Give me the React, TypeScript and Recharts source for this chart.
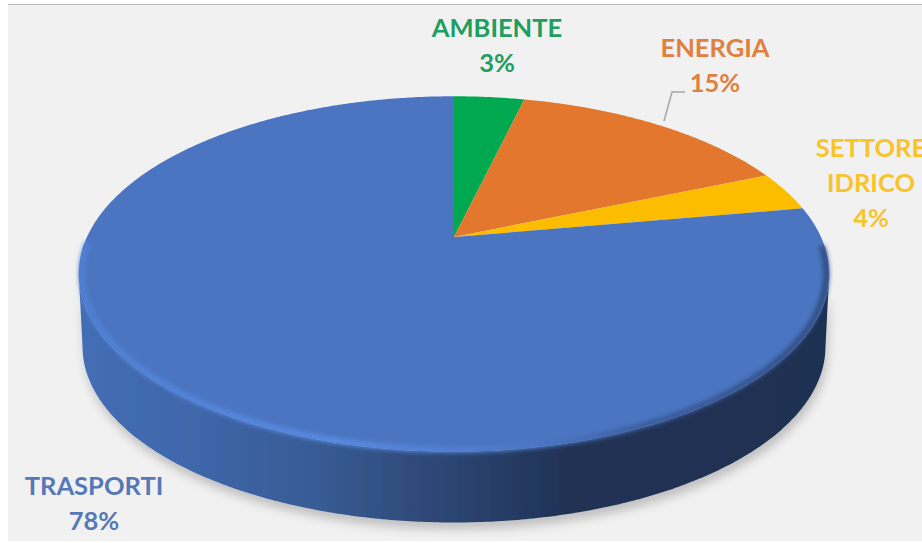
import { Cell, Pie, PieChart } from "recharts";

const categories = ["AMBIENTE", "ENERGIA", "SETTORE IDRICO", "TRASPORTI"];
const shares = [3.7, 14.9, 3.6, 77.8];
const shareLabels = ["3%", "15%", "4%", "78%"];
const faceColors = ["#00a94f", "#e2772d", "#fcbd00", "#4b75c1"];
const labelColors = ["#1f9e60", "#e0803f", "#f9c32a", "#5578b8"];

// centro x e baseline della prima riga per ogni etichetta
const labelSpots = [
  { x: 497, y: 37 },
  { x: 715, y: 57 },
  { x: 871, y: 157 },
  { x: 94, y: 495 },
];

const chartData = categories.map((name, i) => ({ name, value: shares[i] }));

// proiezione prospettica del disco: k = fuga, squash = schiacciamento verticale
const PERSPECTIVE = 0.208;
const SQUASH = 170 / 367;
const DEPTH = 73;
const BOTTOM_SCALE = 0.99;
const RAD = Math.PI / 180;
// angoli dei punti estremi a sinistra e a destra dell'ellisse
const RIGHT_EDGE = -12;
const LEFT_EDGE = -168;

function project(cx: number, cy: number, r: number, deg: number, scale = 1, drop = 0) {
  const u = Math.cos(deg * RAD);
  const v = Math.sin(deg * RAD);
  const w = 1 + PERSPECTIVE * v;
  return [cx + (r * scale * u) / w, cy - (r * SQUASH * scale * v) / w + drop];
}

function rimPoints(cx: number, cy: number, r: number, from: number, to: number, scale = 1, drop = 0) {
  const steps = Math.max(4, Math.ceil(Math.abs(to - from) * 2));
  const pts: number[][] = [];
  for (let i = 0; i <= steps; i++) {
    pts.push(project(cx, cy, r, from + ((to - from) * i) / steps, scale, drop));
  }
  return pts;
}

const toPath = (pts: number[][]) =>
  pts.map((p, i) => `${i ? "L" : "M"}${p[0].toFixed(1)},${p[1].toFixed(1)}`).join(" ");

function DiscSector(props: any) {
  const { cx, cy, outerRadius: r, startAngle, endAngle, fill } = props;
  const rim = rimPoints(cx, cy, r, startAngle, endAngle);
  const face = `M${cx},${cy} ${toPath(rim).replace("M", "L")} Z`;
  const holdsFront = startAngle > -90 && endAngle < -90;
  if (!holdsFront) return <path d={face} fill={fill} />;

  const wallTop = rimPoints(cx, cy, r, RIGHT_EDGE, LEFT_EDGE);
  const wallBottom = rimPoints(cx, cy, r, LEFT_EDGE, RIGHT_EDGE, BOTTOM_SCALE, DEPTH);
  const wall = `${toPath(wallTop)} ${toPath(wallBottom).replace("M", "L")} Z`;
  const nearRim = rimPoints(cx, cy, r - 3, -3, -178);
  return (
    <g>
      <defs>
        <linearGradient id="wallShade" gradientUnits="userSpaceOnUse" x1="80" x2="830" y1="0" y2="0">
          <stop offset="0" stopColor="#446db5" />
          <stop offset="0.15" stopColor="#3f67ab" />
          <stop offset="0.33" stopColor="#375a92" />
          <stop offset="0.5" stopColor="#2b4470" />
          <stop offset="0.65" stopColor="#203255" />
          <stop offset="1" stopColor="#1f3052" />
        </linearGradient>
        <linearGradient id="rimShade" gradientUnits="userSpaceOnUse" x1="80" x2="830" y1="0" y2="0">
          <stop offset="0" stopColor="#5080d4" />
          <stop offset="0.35" stopColor="#5a8ce4" />
          <stop offset="0.5" stopColor="#5280d2" />
          <stop offset="0.62" stopColor="#4b75c1" />
          <stop offset="0.75" stopColor="#3a5c9c" />
          <stop offset="1" stopColor="#304c80" />
        </linearGradient>
        <filter id="discShadow" x="-10%" y="-10%" width="120%" height="130%">
          <feDropShadow dx="2" dy="7" stdDeviation="5" floodColor="#000" floodOpacity="0.2" />
        </filter>
        <filter id="rimBlur" x="-5%" y="-5%" width="110%" height="110%">
          <feGaussianBlur stdDeviation="2" />
        </filter>
      </defs>
      <path d={wall} fill="url(#wallShade)" filter="url(#discShadow)" />
      <path d={face} fill={fill} />
      <path
        d={toPath(nearRim)}
        fill="none"
        stroke="url(#rimShade)"
        strokeWidth={6}
        filter="url(#rimBlur)"
      />
    </g>
  );
}

function DiscLabel(props: any) {
  const { index } = props;
  const spot = labelSpots[index];
  const rows = [...categories[index].split(" "), shareLabels[index]];
  return (
    <g>
      {categories[index] === "ENERGIA" && (
        <path d="M664,121 L672,92 L685,92" fill="none" stroke="#a6a6a6" strokeWidth={1.5} />
      )}
      <text
        x={spot.x}
        y={spot.y}
        textAnchor="middle"
        fill={labelColors[index]}
        fontFamily="Lato"
        fontWeight={700}
        fontSize={25.5}
      >
        {rows.map((row, i) => (
          <tspan key={row} x={spot.x} dy={i ? 35 : 0}>
            {row}
          </tspan>
        ))}
      </text>
    </g>
  );
}

export default function App() {
  return (
    <div style={{ position: "absolute", left: 0, top: 0, width: 922, height: 543, background: "#fff", overflow: "hidden" }}>
      <div
        style={{
          position: "absolute",
          left: 8,
          top: 4,
          right: 0,
          height: 537,
          background: "#f1f1f1",
          borderTop: "1px solid #b9b9b9",
          boxSizing: "border-box",
        }}
      />
      <div style={{ position: "absolute", left: 0, top: 0 }}>
        <PieChart width={922} height={543} margin={{ top: 0, right: 0, bottom: 0, left: 0 }}>
          <Pie
            data={chartData}
            dataKey="value"
            nameKey="name"
            cx={454}
            cy={237}
            outerRadius={367}
            startAngle={90}
            endAngle={-270}
            stroke="none"
            shape={DiscSector}
            label={DiscLabel}
            labelLine={false}
            isAnimationActive={false}
          >
            {chartData.map((row, i) => (
              <Cell key={row.name} fill={faceColors[i]} />
            ))}
          </Pie>
        </PieChart>
      </div>
    </div>
  );
}
